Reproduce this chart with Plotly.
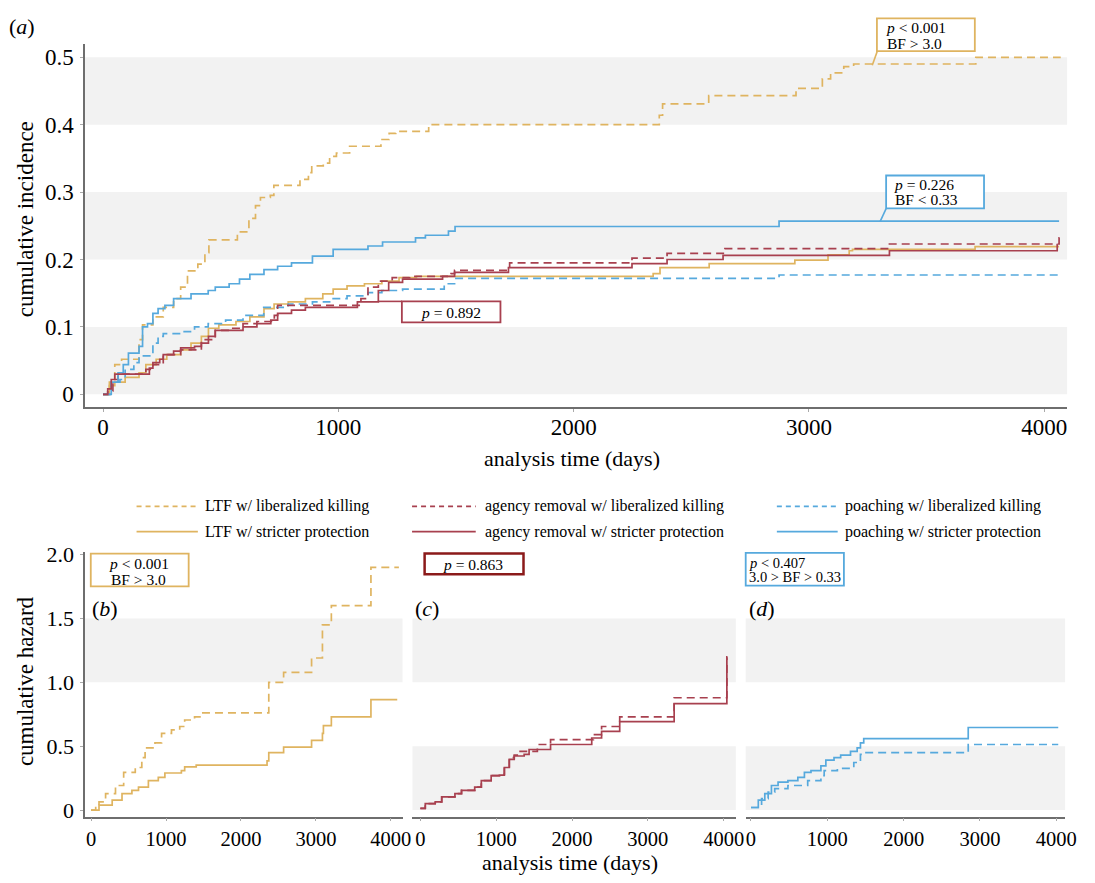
import plotly.graph_objects as go

# The page keeps the browser's default 8px body margin, so the figure is sized to fit inside it
OFF = 8
W, H = 1095 - 2 * OFF, 883 - 2 * OFF
def px(x): return (x - OFF) / W
def py(y): return 1 - (y - OFF) / H

FONT = "Liberation Serif"
GOLD = "#DFB460"
RED = "#A8404F"
DARKRED = "#8B1A1A"
BLUE = "#56A9DD"
BAND = "#F2F2F2"
AXIS = "#6E6E6E"
TXT = "#000000"

# ---------------- panel (a): cumulative incidence ----------------
ltf_lib_t = [0, 27, 50, 79, 153, 168, 212, 256, 300, 330, 359, 403, 433, 450, 571, 620, 648, 669, 711, 726,
             837, 873, 887, 936, 963, 992, 1048, 1181, 1216, 1244, 1384, 2364, 2378, 2574, 2945, 3057, 3092,
             3148, 3190, 3709, 4070]
ltf_lib_ci = [0, 0.018, 0.044, 0.052, 0.081, 0.103, 0.115, 0.129, 0.142, 0.159, 0.183, 0.193, 0.21, 0.229,
              0.241, 0.261, 0.28, 0.292, 0.295, 0.31, 0.319, 0.329, 0.339, 0.343, 0.353, 0.358, 0.368, 0.378,
              0.387, 0.39, 0.40, 0.414, 0.431, 0.443, 0.454, 0.468, 0.477, 0.486, 0.49, 0.50, 0.50]

ltf_str_t = [0, 27, 50, 94, 153, 182, 226, 271, 330, 374, 418, 448, 492, 565, 624, 684, 727, 787, 860, 934,
             978, 1037, 1111, 1185, 1258, 1332, 2338, 2367, 2576, 2940, 3081, 3171, 3185, 3706, 4063]
ltf_str_ci = [0, 0.013, 0.018, 0.025, 0.032, 0.044, 0.052, 0.059, 0.066, 0.076, 0.086, 0.098, 0.103, 0.108,
              0.115, 0.127, 0.134, 0.137, 0.142, 0.149, 0.156, 0.161, 0.164, 0.168, 0.173, 0.175, 0.179,
              0.188, 0.194, 0.199, 0.207, 0.213, 0.215, 0.219, 0.219]

agency_lib_t = [0, 20, 42, 64, 182, 212, 256, 330, 418, 477, 536, 595, 654, 728, 742, 1096, 1126, 1170,
                1229, 1303, 1479, 1494, 1728, 2248, 2397, 2643, 3342, 4063, 4066]
agency_lib_ci = [0, 0.005, 0.022, 0.03, 0.037, 0.044, 0.059, 0.066, 0.081, 0.095, 0.098, 0.105, 0.108,
                 0.117, 0.132, 0.142, 0.159, 0.168, 0.173, 0.175, 0.179, 0.184, 0.195, 0.202, 0.209, 0.216,
                 0.223, 0.232, 0.232]

agency_str_t = [0, 20, 35, 50, 197, 212, 241, 256, 300, 330, 389, 418, 448, 477, 595, 654, 713, 742, 801,
                860, 1081, 1170, 1214, 1273, 1443, 1494, 1723, 2248, 2397, 2635, 3342, 4055, 4058]
agency_str_ci = [0, 0.008, 0.022, 0.03, 0.039, 0.047, 0.052, 0.059, 0.064, 0.069, 0.071, 0.076, 0.086,
                 0.095, 0.10, 0.105, 0.11, 0.12, 0.125, 0.129, 0.137, 0.154, 0.166, 0.171, 0.175, 0.181,
                 0.188, 0.194, 0.20, 0.206, 0.213, 0.222, 0.222]

poach_lib_t = [0, 35, 72, 94, 131, 153, 212, 234, 256, 330, 389, 447, 521, 595, 683, 787, 890, 963, 1037,
               1126, 1185, 1273, 1450, 1494, 2873, 4075]
poach_lib_ci = [0, 0.018, 0.022, 0.037, 0.047, 0.057, 0.076, 0.086, 0.09, 0.093, 0.10, 0.105, 0.11, 0.117,
                0.129, 0.134, 0.137, 0.142, 0.146, 0.151, 0.154, 0.156, 0.164, 0.172, 0.177, 0.177]

poach_str_t = [0, 35, 64, 86, 108, 153, 168, 189, 212, 234, 263, 300, 374, 447, 477, 536, 580, 624, 684,
               742, 801, 890, 978, 1126, 1188, 1328, 1370, 1468, 1496, 2873, 4063]
poach_str_ci = [0, 0.018, 0.032, 0.044, 0.061, 0.071, 0.10, 0.105, 0.12, 0.127, 0.132, 0.142, 0.149, 0.154,
                0.159, 0.164, 0.171, 0.178, 0.185, 0.19, 0.195, 0.205, 0.215, 0.22, 0.226, 0.232, 0.236,
                0.242, 0.249, 0.257, 0.257]

# ---------------- panels (b)-(d): cumulative hazard ----------------
ltf_lib_ht = [0, 62, 106, 194, 326, 435, 590, 677, 721, 853, 941, 1073, 1183, 1249, 1381, 1469, 2371, 2569,
              2942, 3087, 3206, 3734, 4107]
ltf_lib_hz = [0, 0.038, 0.064, 0.128, 0.192, 0.295, 0.333, 0.41, 0.487, 0.525, 0.60, 0.628, 0.654, 0.705,
              0.73, 0.76, 1.0, 1.077, 1.19, 1.45, 1.6, 1.9, 1.9]
ltf_str_ht = [0, 106, 282, 413, 545, 633, 765, 897, 985, 1205, 1249, 1403, 2348, 2371, 2569, 2942, 3087,
              3100, 3206, 3734, 4085]
ltf_str_hz = [0, 0.038, 0.077, 0.128, 0.154, 0.18, 0.23, 0.256, 0.29, 0.308, 0.338, 0.351, 0.385, 0.449,
              0.492, 0.546, 0.60, 0.66, 0.73, 0.864, 0.864]

agency_lib_ht = [0, 65, 196, 282, 456, 543, 717, 804, 934, 1043, 1108, 1173, 1238, 1304, 1543, 1717, 2282,
                 2390, 2629, 3347, 4042, 4050]
agency_lib_hz = [0.013, 0.051, 0.064, 0.103, 0.128, 0.154, 0.179, 0.23, 0.269, 0.28, 0.34, 0.41, 0.43, 0.46,
                 0.513, 0.551, 0.59, 0.654, 0.73, 0.879, 1.2, 1.2]
agency_str_ht = [0, 65, 196, 282, 456, 543, 717, 804, 934, 1043, 1108, 1173, 1238, 1369, 1434, 1717, 2260,
                 2390, 2629, 3347, 4042, 4050]
agency_str_hz = [0.013, 0.051, 0.064, 0.103, 0.128, 0.154, 0.179, 0.23, 0.269, 0.274, 0.333, 0.397, 0.423,
                 0.436, 0.474, 0.513, 0.564, 0.615, 0.692, 0.833, 1.19, 1.19]

poach_lib_ht = [0, 139, 225, 311, 484, 743, 916, 959, 1132, 1347, 1434, 1477, 2846, 4025]
poach_lib_hz = [0.02, 0.09, 0.141, 0.167, 0.192, 0.23, 0.269, 0.308, 0.326, 0.372, 0.436, 0.449, 0.513, 0.513]
poach_str_ht = [0, 96, 181, 268, 355, 484, 614, 700, 786, 916, 981, 1088, 1175, 1304, 1391, 1434, 1477,
                2846, 4025]
poach_str_hz = [0.02, 0.077, 0.128, 0.192, 0.218, 0.23, 0.256, 0.295, 0.308, 0.346, 0.39, 0.41, 0.43, 0.46,
                0.487, 0.525, 0.559, 0.646, 0.646]

x_ticks = [0, 1000, 2000, 3000, 4000]
x_labels = ["0", "1000", "2000", "3000", "4000"]
ci_ticks = [0, 0.1, 0.2, 0.3, 0.4, 0.5]
ci_labels = ["0", "0.1", "0.2", "0.3", "0.4", "0.5"]
hz_ticks = [0, 0.5, 1.0, 1.5, 2.0]
hz_labels = ["0", "0.5", "1.0", "1.5", "2.0"]

legend_names = ["LTF w/ liberalized killing", "agency removal w/ liberalized killing",
                "poaching w/ liberalized killing", "LTF w/ stricter protection",
                "agency removal w/ stricter protection", "poaching w/ stricter protection"]

DASH = "8px,5px"
fig = go.Figure()

def add(t, v, color, dashed, xa, ya):
    fig.add_trace(go.Scatter(x=t, y=v, mode="lines", xaxis=xa, yaxis=ya, hoverinfo="skip", showlegend=False,
                             line=dict(color=color, width=1.7, shape="hv", dash=DASH if dashed else "solid")))

add(ltf_lib_t, ltf_lib_ci, GOLD, True, "x", "y")
add(ltf_str_t, ltf_str_ci, GOLD, False, "x", "y")
add(poach_lib_t, poach_lib_ci, BLUE, True, "x", "y")
add(agency_lib_t, agency_lib_ci, RED, True, "x", "y")
add(poach_str_t, poach_str_ci, BLUE, False, "x", "y")
add(agency_str_t, agency_str_ci, RED, False, "x", "y")

add(ltf_lib_ht, ltf_lib_hz, GOLD, True, "x2", "y2")
add(ltf_str_ht, ltf_str_hz, GOLD, False, "x2", "y2")
add(agency_lib_ht, agency_lib_hz, RED, True, "x3", "y3")
add(agency_str_ht, agency_str_hz, RED, False, "x3", "y3")
add(poach_lib_ht, poach_lib_hz, BLUE, True, "x4", "y4")
add(poach_str_ht, poach_str_hz, BLUE, False, "x4", "y4")

def xax(dom, rng, anchor, size, standoff):
    return dict(domain=[px(dom[0]), px(dom[1])], range=rng, anchor=anchor, showline=True, linecolor=AXIS,
                linewidth=1.6, ticks="outside", ticklen=3, tickcolor="#aaaaaa", tickvals=x_ticks,
                ticktext=x_labels, tickfont=dict(family=FONT, size=size, color=TXT), showgrid=False,
                zeroline=False, fixedrange=True, ticklabelstandoff=standoff)

def yax(dom, rng, anchor, ticks, labels, size, visible=True):
    d = dict(domain=[py(dom[1]), py(dom[0])], range=rng, anchor=anchor, showgrid=False, zeroline=False,
             fixedrange=True)
    if visible:
        d.update(showline=True, linecolor=AXIS, linewidth=1.6, ticks="outside", ticklen=3, tickcolor="#aaaaaa",
                 tickvals=ticks, ticktext=labels, tickfont=dict(family=FONT, size=size, color=TXT),
                 ticklabelstandoff=2)
    else:
        d.update(visible=False)
    return d

hz_range = [-0.0515, 2.023]
fig.update_layout(
    width=W, height=H, margin=dict(l=0, r=0, t=0, b=0), paper_bgcolor="white", plot_bgcolor="white",
    showlegend=False, font=dict(family=FONT, color=TXT),
    xaxis=xax((86, 1079), [-76, 4097], "y", 23, -5),
    yaxis=yax((35, 405), [-0.019, 0.5204], "x", ci_ticks, ci_labels, 23),
    xaxis2=xax((86, 407), [-79, 4156], "y2", 20.5, 0),
    yaxis2=yax((552, 821.7), hz_range, "x2", hz_ticks, hz_labels, 22),
    xaxis3=xax((417, 744), [-104, 4160], "y3", 20.5, 0),
    yaxis3=yax((552, 821.7), hz_range, "x3", hz_ticks, hz_labels, 22, visible=False),
    xaxis4=xax((754, 1077), [-69, 4115], "y4", 20.5, 0),
    yaxis4=yax((552, 821.7), hz_range, "x4", hz_ticks, hz_labels, 22, visible=False),
)

shapes = []
def band(xr, yr, y0, y1):
    shapes.append(dict(type="rect", xref=xr + " domain", x0=0, x1=1, yref=yr, y0=y0, y1=y1,
                       fillcolor=BAND, line=dict(width=0), layer="below"))

for lo, hi in [(0, 0.1), (0.2, 0.3), (0.4, 0.5)]:
    band("x", "y", lo, hi)
band("x2", "y2", 1.0, 1.5)
for xr, yr in [("x3", "y3"), ("x4", "y4")]:
    band(xr, yr, 0, 0.5)
    band(xr, yr, 1.0, 1.5)

def pline(x0, y0, x1, y1, color, width=1.6, dash="solid"):
    shapes.append(dict(type="line", xref="paper", yref="paper", x0=px(x0), y0=py(y0), x1=px(x1), y1=py(y1),
                       line=dict(color=color, width=width, dash=dash), layer="above"))

def pbox(x0, y0, x1, y1, color, width=1.6):
    shapes.append(dict(type="rect", xref="paper", yref="paper", x0=px(x0), y0=py(y0), x1=px(x1), y1=py(y1),
                       line=dict(color=color, width=width), fillcolor="white", layer="above"))

annots = []
def text(x, y, s, size, anchor="left", angle=0):
    annots.append(dict(xref="paper", yref="paper", x=px(x), y=py(y), text=s, showarrow=False,
                       xanchor=anchor, yanchor="middle", textangle=angle, borderpad=0,
                       font=dict(family=FONT, size=size, color=TXT)))

# annotation boxes, panel (a)
pline(887, 43, 882, 57, GOLD)
pbox(886.7, 9.3, 985.7, 42.7, GOLD, 1.8)
text(895, 18.3, "<i>p</i> &lt; 0.001", 15.5)
text(896, 35, "BF &gt; 3.0", 15.5)

pline(896, 203, 890, 216, BLUE)
pbox(896, 169.3, 995, 202.7, BLUE, 1.8)
text(903.3, 178.3, "<i>p</i> = 0.226", 15.5)
text(904, 194, "BF &lt; 0.33", 15.5)

pline(382, 297.4, 406.3, 297.4, RED)
pbox(406.3, 297.3, 506, 318.7, RED, 1.8)
text(455.5, 308.3, "<i>p</i> = 0.892", 15.5, "center")

# annotation boxes, panels (b)-(d)
pbox(91.7, 554, 190.7, 587.3, GOLD, 1.8)
text(140, 564, "<i>p</i> &lt; 0.001", 15.5, "center")
text(139.5, 580, "BF &gt; 3.0", 15.5, "center")

pbox(429.3, 554, 529.3, 575, DARKRED, 2.5)
text(478.5, 565, "<i>p</i> = 0.863", 15.5, "center")

pbox(754, 553.3, 853.3, 586.7, BLUE, 1.8)
text(756.5, 563.3, "<i>p</i> &lt; 0.407", 14.5)
text(756.5, 578.3, "3.0 &gt; BF &gt; 0.33", 14.5)

# panel labels
text(8, 18, "(<i>a</i>)", 22)
text(92, 610, "(<i>b</i>)", 22)
text(419, 610, "(<i>c</i>)", 22)
text(756, 610, "(<i>d</i>)", 22)

# axis titles
text(26, 214, "cumulative incidence", 23, "center", -90)
text(578, 457, "analysis time (days)", 22, "center")
text(25, 684, "cumulative hazard", 23, "center", -90)
text(576, 868, "analysis time (days)", 22, "center")

# legend
leg_cols = [(138, 200, 206), (416.6, 481, 489), (785.5, 847, 853.5)]
leg_rows = [506, 531.7]
leg_colors = [GOLD, RED, BLUE]
for i, name in enumerate(legend_names):
    r, c = divmod(i, 3)
    x0, x1, xt = leg_cols[c]
    pline(x0, leg_rows[r], x1, leg_rows[r], leg_colors[c], 1.6, "5px,4px" if r == 0 else "solid")
    text(xt, leg_rows[r], name, 16)

fig.update_layout(shapes=shapes, annotations=annots)
fig.write_html("out.html", config={"displayModeBar": False})
